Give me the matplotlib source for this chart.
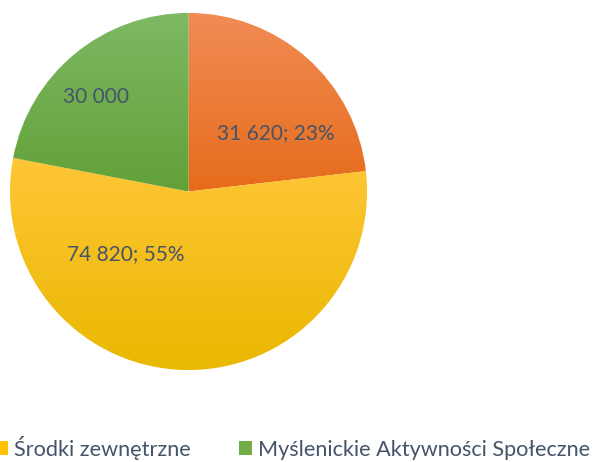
import numpy as np
import matplotlib
matplotlib.use("Agg")
import matplotlib.pyplot as plt
from matplotlib.colors import LinearSegmentedColormap
from matplotlib.patches import Patch

categories = ['Inne', 'Środki zewnętrzne', 'Myślenickie Aktywności Społeczne']
values = [31620, 74820, 30000]
show_pct = [True, True, False]
# gradient (top, bottom) for each slice
grads = [('#F18C55', '#E66C1B'), ('#FFC637', '#E9B800'), ('#7EB964', '#62A138')]
legend_colors = ['#F07B2C', '#FFC000', '#70AD47']
# label positions as (x, y) in pie radius units
label_pos = [(0.49, 0.33), (-0.35, -0.35), (-0.52, 0.53)]
text_color = '#44546A'

plt.rcParams['font.family'] = ['Lato', 'DejaVu Sans']

fig = plt.figure(figsize=(5.98, 4.62), dpi=100)
ax = fig.add_axes([10 / 598, 92 / 462, 357 / 598, 357 / 462])

wedges, _ = ax.pie(values, startangle=90, counterclock=False, radius=1,
                   colors=[g[0] for g in grads],
                   wedgeprops=dict(linewidth=0.6, edgecolor='white'))

for w, (top, bot) in zip(wedges, grads):
    cmap = LinearSegmentedColormap.from_list('g', [bot, top])
    bb = w.get_path().get_extents(w.get_patch_transform())
    grad = np.linspace(0, 1, 256).reshape(-1, 1)
    im = ax.imshow(grad, cmap=cmap, origin='lower', aspect='auto',
                   extent=[bb.x0, bb.x1, bb.y0, bb.y1], zorder=w.get_zorder())
    im.set_clip_path(w)

total = sum(values)
for v, p, pos in zip(values, show_pct, label_pos):
    s = f'{v:,}'.replace(',', ' ')
    if p:
        s += f'; {round(v / total * 100):.0f}%'
    ax.text(pos[0], pos[1], s, ha='center', va='center', fontsize=15,
            color=text_color, zorder=10)

ax.set_xlim(-1, 1)
ax.set_ylim(-1, 1)
ax.axis('off')

handles = [Patch(facecolor=legend_colors[i]) for i in (1, 2)]
fig.legend(handles, [categories[1], categories[2]], loc='lower left',
           bbox_to_anchor=(-0.016, -0.004), ncol=2, frameon=False,
           fontsize=15.6, labelcolor=text_color, handlelength=0.6,
           handleheight=0.6, handletextpad=0.3, columnspacing=2.2,
           borderpad=0.2, borderaxespad=0)

fig.savefig('out.png', dpi=100)
